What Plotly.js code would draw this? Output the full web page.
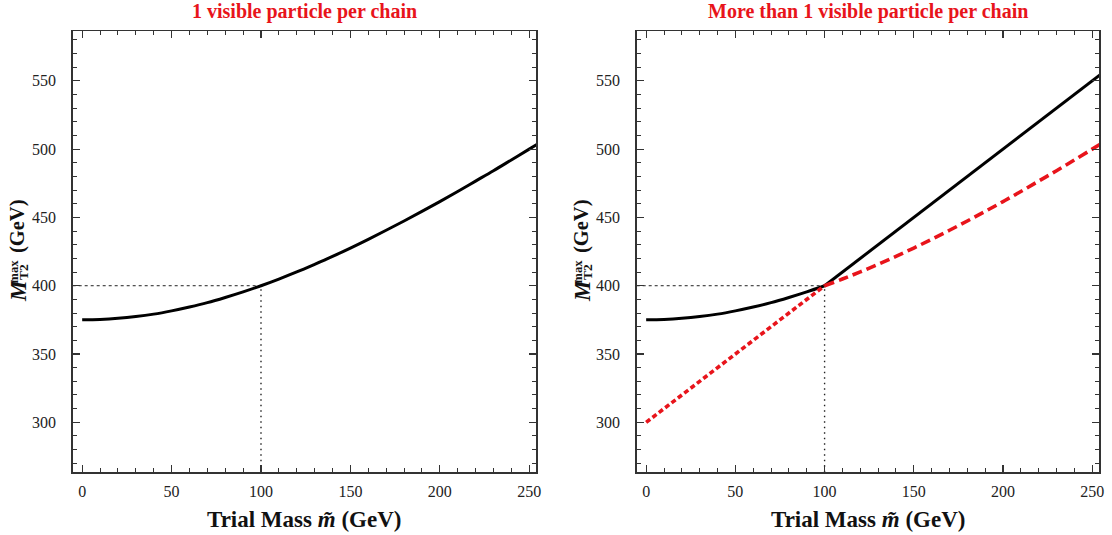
<!DOCTYPE html>
<html>
<head>
<meta charset="utf-8">
<script src="https://cdn.plot.ly/plotly-3.0.1.min.js"></script>
<style>html,body{margin:0;padding:0;background:#fff;}#chart{width:1112px;height:535px;}</style>
</head>
<body>
<div id="chart"></div>
<script>
// ---- data ----
const titles = ["1 visible particle per chain", "More than 1 visible particle per chain"];
const xTitle = "Trial Mass <i>m\u0303</i> (GeV)";
const trueMass = 100;      // GeV, location of the kink
const endpoint = 400;      // GeV, MT2max at the true mass
const mLow  = [0, 10, 20, 30, 40, 50, 60, 70, 80, 90, 100];
const mHigh = [100, 110, 120, 130, 140, 150, 160, 170, 180, 190, 200, 210, 220, 230, 240, 250, 255];
// smooth curve (single visible particle)
const curveLow  = [375, 375.3, 376.1, 377.4, 379.2, 381.6, 384.4, 387.6, 391.4, 395.5, 400];
const curveHigh = [400, 404.9, 410.1, 415.7, 421.5, 427.6, 434.0, 440.6, 447.4, 454.4, 461.6, 469.0, 476.6, 484.2, 492.1, 500.0, 504.0];
// straight branches (more than one visible particle)
const lineLow  = [300, 310, 320, 330, 340, 350, 360, 370, 380, 390, 400];
const lineHigh = [400, 410, 420, 430, 440, 450, 460, 470, 480, 490, 500, 510, 520, 530, 540, 550, 555];
const xRange = [-5.3, 253.8];
const yRange = [263.4, 586.5];
const xTickStep = 50, yTickStep = 50, minorStep = 10;

// ---- styles ----
const RED = "#e8141b";
const SERIF = "Liberation Serif";
const W = 1112, H = 535;
const px = v => v / W, py = v => 1 - v / H;
const panels = [
  {l: 72.7, r: 536},
  {l: 636.7, r: 1099}
];
const frameTop = 31, frameBottom = 472.3;

const traces = [];
function guides(xa, ya) {
  traces.push({x: [xRange[0], trueMass], y: [endpoint, endpoint], xaxis: xa, yaxis: ya, mode: "lines",
    line: {color: "#222", width: 1, dash: "3px,3px"}, hoverinfo: "skip", showlegend: false});
  traces.push({x: [trueMass, trueMass], y: [yRange[0], endpoint], xaxis: xa, yaxis: ya, mode: "lines",
    line: {color: "#222", width: 1.4, dash: "1.5px,4px"}, hoverinfo: "skip", showlegend: false});
}
guides("x", "y");
guides("x2", "y2");
// left panel: smooth black curve
traces.push({x: mLow.concat(mHigh.slice(1)), y: curveLow.concat(curveHigh.slice(1)), xaxis: "x", yaxis: "y",
  mode: "lines", line: {color: "#000", width: 3, shape: "spline"}, showlegend: false});
// right panel: black upper envelope
traces.push({x: mLow, y: curveLow, xaxis: "x2", yaxis: "y2", mode: "lines",
  line: {color: "#000", width: 3, shape: "spline"}, showlegend: false});
traces.push({x: mHigh, y: lineHigh, xaxis: "x2", yaxis: "y2", mode: "lines",
  line: {color: "#000", width: 3}, showlegend: false});
// right panel: red dashed lower envelope
traces.push({x: mLow, y: lineLow, xaxis: "x2", yaxis: "y2", mode: "lines",
  line: {color: RED, width: 3.6, dash: "5px,3px"}, showlegend: false});
traces.push({x: mHigh, y: curveHigh, xaxis: "x2", yaxis: "y2", mode: "lines",
  line: {color: RED, width: 3.6, dash: "10px,5px", shape: "spline"}, showlegend: false});

function xAxis(i) {
  return {domain: [px(panels[i].l), px(panels[i].r)], range: xRange, anchor: i ? "y2" : "y",
    showline: true, linecolor: "#333", linewidth: 1.5, mirror: "ticks",
    ticks: "inside", ticklen: 7, tickwidth: 1.2, tickcolor: "#333",
    tick0: 0, dtick: xTickStep, ticklabelstandoff: 4,
    minor: {dtick: minorStep, ticks: "inside", ticklen: 4, tickwidth: 1, tickcolor: "#333"},
    showgrid: false, zeroline: false, fixedrange: true,
    tickfont: {family: SERIF, size: 16, color: "#222"}};
}
function yAxis(i) {
  return {domain: [py(frameBottom), py(frameTop)], range: yRange, anchor: i ? "x2" : "x",
    showline: true, linecolor: "#333", linewidth: 1.5, mirror: "ticks",
    ticks: "inside", ticklen: 7, tickwidth: 1.2, tickcolor: "#333",
    tick0: 300, dtick: yTickStep, ticklabelstandoff: 12,
    minor: {dtick: minorStep, ticks: "inside", ticklen: 4, tickwidth: 1, tickcolor: "#333"},
    showgrid: false, zeroline: false, fixedrange: true,
    tickfont: {family: SERIF, size: 16, color: "#222"}};
}

const ann = [];
panels.forEach((p, i) => {
  const cx = (p.l + p.r) / 2;
  const off = p.l - panels[0].l;
  ann.push({text: "<b>" + titles[i] + "</b>", xref: "paper", yref: "paper", x: px(cx), y: py(11),
    xanchor: "center", yanchor: "middle", showarrow: false, font: {family: SERIF, size: 20, color: RED}});
  ann.push({text: "<b>" + xTitle + "</b>", xref: "paper", yref: "paper", x: px(cx), y: py(519),
    xanchor: "center", yanchor: "middle", showarrow: false, font: {family: SERIF, size: 23, color: "#111"}});
  // y title pieces: M, stacked max / T2, (GeV)
  ann.push({text: "<b><i>M</i></b>", xref: "paper", yref: "paper", x: px(18 + off), y: py(291), textangle: -90,
    xanchor: "center", yanchor: "middle", showarrow: false, font: {family: SERIF, size: 23, color: "#111"}});
  ann.push({text: "<b>max</b>", xref: "paper", yref: "paper", x: px(13.5 + off), y: py(272), textangle: -90,
    xanchor: "center", yanchor: "middle", showarrow: false, font: {family: SERIF, size: 12.5, color: "#111"}});
  ann.push({text: "<b>T2</b>", xref: "paper", yref: "paper", x: px(23 + off), y: py(272), textangle: -90,
    xanchor: "center", yanchor: "middle", showarrow: false, font: {family: SERIF, size: 13.5, color: "#111"}});
  ann.push({text: "<b>(GeV)</b>", xref: "paper", yref: "paper", x: px(18 + off), y: py(226), textangle: -90,
    xanchor: "center", yanchor: "middle", showarrow: false, font: {family: SERIF, size: 20.5, color: "#111"}});
});

const layout = {
  width: W, height: H, margin: {l: 0, r: 0, t: 0, b: 0},
  paper_bgcolor: "#fff", plot_bgcolor: "#fff", showlegend: false,
  xaxis: xAxis(0), yaxis: yAxis(0), xaxis2: xAxis(1), yaxis2: yAxis(1),
  annotations: ann
};
Plotly.newPlot("chart", traces, layout, {displayModeBar: false, staticPlot: true});
</script>
</body>
</html>
